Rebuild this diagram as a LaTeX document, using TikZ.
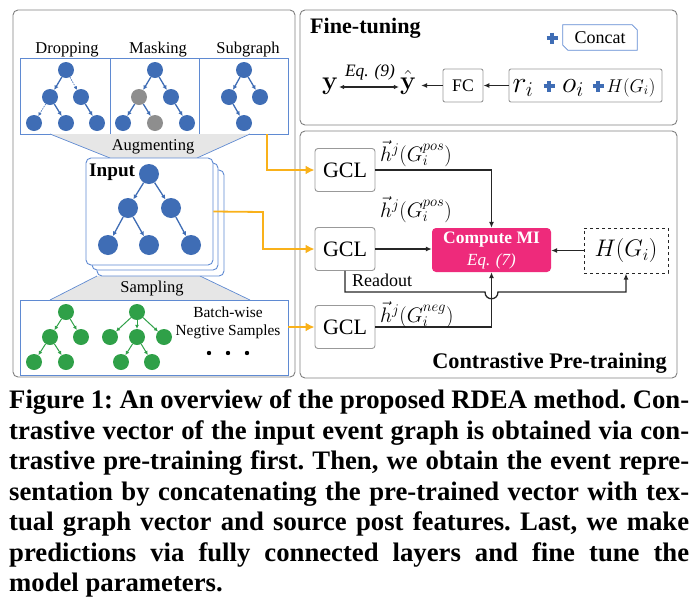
\documentclass[tikz,border=0pt]{standalone}
\usepackage{fix-cm}
\usepackage[no-math]{fontspec}
\setmainfont{Liberation Serif}
\usetikzlibrary{arrows.meta,calc}
\definecolor{nblue}{HTML}{3F6DB5}
\definecolor{ngreen}{HTML}{2FA048}
\definecolor{ngray}{HTML}{8E8E8E}
\definecolor{bblue}{HTML}{5F8AD2}
\definecolor{tgray}{HTML}{E6E6E6}
\definecolor{mipink}{HTML}{EE2A7B}
\definecolor{orng}{HTML}{F9B11A}
\definecolor{pgray}{HTML}{7F7F7F}
\definecolor{dline}{HTML}{262626}
\tikzset{
  panel/.style={draw=pgray, line width=0.9pt, rounded corners=5pt},
  bbox/.style={draw=bblue, line width=0.9pt},
  tnode/.style={circle, fill=nblue, minimum size=16pt, inner sep=0pt},
  gnode/.style={circle, fill=ngreen, minimum size=16pt, inner sep=0pt},
  mnode/.style={circle, fill=ngray, minimum size=16pt, inner sep=0pt},
  inode/.style={circle, fill=nblue, minimum size=20pt, inner sep=0pt},
  tedge/.style={nblue, line width=1.3pt, -{Latex[length=4.5pt,width=4.5pt]}},
  dedge/.style={nblue, line width=0.6pt, dash pattern=on 1.5pt off 1pt, -{Latex[length=3.5pt,width=3.5pt]}},
  gedge/.style={ngreen, line width=1pt, -{Latex[length=4pt,width=4pt]}},
  oline/.style={orng, line width=1.8pt, -{Latex[length=9pt,width=9pt]}},
  dark/.style={dline, line width=1.3pt, -{Latex[length=6pt,width=5pt]}},
  graybox/.style={draw=ngray!90, line width=0.9pt, rounded corners=3pt, fill=white},
  lbl/.style={inner sep=0pt, anchor=base},
  plusmark/.pic={\draw[nblue, line width=3.4pt] (-5.5,0)--(5.5,0) (0,-5.5)--(0,5.5);}
}
\begin{document}
\begin{tikzpicture}[x=1pt,y=-1pt]
\useasboundingbox (0,0) rectangle (697,603);
% panels
\draw[panel] (13,10) rectangle (295,377);
\draw[panel] (300,10) rectangle (677,125);
\draw[panel] (300,131) rectangle (677,378);

% augmentation boxes
\node[lbl, font=\fontsize{16.5}{18}\selectfont] (tdrop) at (67,53) {Dropping};
\node[lbl, font=\fontsize{16.5}{18}\selectfont] (tmask) at (158,53) {Masking};
\node[lbl, font=\fontsize{16.5}{18}\selectfont] (tsub) at (248,53) {Subgraph};
\draw[bbox] (20,58) rectangle (288,134);
\draw[bbox] (110,58) -- (110,134) (199,58) -- (199,134);

% dropping tree
\node[tnode] (d0) at (66,70) {};
\node[tnode] (d1) at (50,97) {};
\node[tnode] (d2) at (81,97) {};
\node[tnode] (d3) at (34,123) {};
\node[tnode] (d4) at (66,123) {};
\node[tnode] (d5) at (97,123) {};
\draw[tedge] (d0) -- (d1);
\draw[dedge] (d0) -- (d2);
\draw[dedge] (d1) -- (d3);
\draw[tedge] (d1) -- (d4);
\draw[tedge] (d2) -- (d5);
% masking tree
\node[tnode] (m0) at (155,70) {};
\node[mnode] (m1) at (139,97) {};
\node[tnode] (m2) at (171,97) {};
\node[tnode] (m3) at (123,123) {};
\node[mnode] (m4) at (155,123) {};
\node[tnode] (m5) at (187,123) {};
\draw[tedge] (m0) -- (m1);
\draw[tedge] (m0) -- (m2);
\draw[tedge] (m1) -- (m3);
\draw[tedge] (m1) -- (m4);
\draw[tedge] (m2) -- (m5);
% subgraph tree
\node[tnode] (s0) at (244,70) {};
\node[tnode] (s1) at (229,97) {};
\node[tnode] (s2) at (260,97) {};
\node[tnode] (s3) at (244,123) {};
\draw[tedge] (s0) -- (s1);
\draw[tedge] (s0) -- (s2);
\draw[tedge] (s1) -- (s3);

% trapezoids
\fill[tgray] (50,134) -- (250,134) -- (197,158) -- (110,158) -- cycle;
\draw[bblue, line width=0.7pt] (50,134) -- (110,158) (250,134) -- (197,158);
\node[lbl, font=\fontsize{16.5}{18}\selectfont] (taug) at (153,150) {Augmenting};
\fill[tgray] (97,276) -- (200,276) -- (250,300) -- (50,300) -- cycle;
\draw[bblue, line width=0.7pt] (97,276) -- (50,300) (200,276) -- (250,300);
\node[lbl, font=\fontsize{16.5}{18}\selectfont] (tsamp) at (152,292) {Sampling};

% input stack
\draw[bbox, fill=white, rounded corners=5pt] (97,170) rectangle (224,276);
\draw[bbox, fill=white, rounded corners=5pt] (92,163) rectangle (218,270);
\node[bbox, fill=white, rounded corners=5pt, minimum width=127pt, minimum height=107pt, inner sep=0pt] (inp) at (149.5,211.5) {};
\node[lbl, anchor=base west, font=\fontsize{19.2}{21}\selectfont\bfseries] (tinput) at (89,176) {Input};
\node[inode] (i0) at (149,174) {};
\node[inode] (i1) at (128,208) {};
\node[inode] (i2) at (171,208) {};
\node[inode] (i3) at (108,245) {};
\node[inode] (i4) at (149,245) {};
\node[inode] (i5) at (191,245) {};
\draw[tedge] (i0) -- (i1);
\draw[tedge] (i0) -- (i2);
\draw[tedge] (i1) -- (i3);
\draw[tedge] (i1) -- (i4);
\draw[tedge] (i2) -- (i5);

% negative samples
\node[bbox, minimum width=268pt, minimum height=75pt, inner sep=0pt] (neg) at (154,337.5) {};
\node[gnode] (g0) at (66,312) {};
\node[gnode] (g1) at (50,337) {};
\node[gnode] (g2) at (81,337) {};
\node[gnode] (g3) at (34,362) {};
\node[gnode] (g4) at (66,362) {};
\draw[gedge] (g0) -- (g1);
\draw[gedge] (g0) -- (g2);
\draw[gedge] (g1) -- (g3);
\draw[gedge] (g1) -- (g4);
\node[gnode] (h0) at (137,312) {};
\node[gnode] (h1) at (110,337) {};
\node[gnode] (h2) at (137,337) {};
\node[gnode] (h3) at (164,337) {};
\node[gnode] (h4) at (121,362) {};
\node[gnode] (h5) at (152,362) {};
\draw[gedge] (h0) -- (h1);
\draw[gedge] (h0) -- (h2);
\draw[gedge] (h0) -- (h3);
\draw[gedge] (h2) -- (h4);
\draw[gedge] (h2) -- (h5);
\node[lbl, font=\fontsize{15.4}{17}\selectfont] (tbw) at (228,317) {Batch-wise};
\node[lbl, font=\fontsize{15.4}{17}\selectfont] (tns) at (228,335) {Negtive Samples};
\fill[black] (209,353) circle (2.2) (228,353) circle (2.2) (247,353) circle (2.2);

% GCL nodes
\node[graybox, minimum width=60pt, minimum height=43pt, inner sep=0pt, font=\fontsize{22}{24}\selectfont] (gcl1) at (345,170) {GCL};
\node[graybox, minimum width=60pt, minimum height=43pt, inner sep=0pt, font=\fontsize{22}{24}\selectfont] (gcl2) at (345,249) {GCL};
\node[graybox, minimum width=60pt, minimum height=43pt, inner sep=0pt, font=\fontsize{22}{24}\selectfont] (gcl3) at (345,327) {GCL};

% orange connectors
\coordinate (o1s) at (267,134);
\draw[oline] (o1s) |- (gcl1.west);
\coordinate (o2s) at (inp.east);
\coordinate (o2m) at (263,212);
\draw[oline] (o2s) -- (o2m) |- (gcl2.west);
\draw[oline] (neg.east |- gcl3.west) -- (gcl3.west);

% compute MI and H
\node[fill=mipink, rounded corners=4pt, minimum width=119pt, minimum height=44pt, inner sep=0pt] (cmi) at (491.5,250) {};
\node[lbl, text=white, font=\fontsize{17.5}{19}\selectfont\bfseries] (tcmi) at (491.5,243) {Compute MI};
\node[lbl, text=white, font=\fontsize{17}{19}\selectfont\itshape] (teq7) at (491.5,265) {Eq. (7)};
\node[draw=dline, dashed, line width=1pt, minimum width=84pt, minimum height=45pt, inner sep=0pt, font=\fontsize{24}{26}\selectfont] (hbox) at (626,250.5) {$H(G_i)$};

\draw[dark] (gcl1.east) -| (cmi.north);
\draw[dark] (gcl2.east) -- (gcl2.east -| cmi.west);
\draw[dark] (hbox.west) -- (hbox.west -| cmi.east);
\draw[dark] (gcl3.east) -| (cmi.south);
\coordinate (rdy) at (0,292);
\coordinate (hopL) at ($(cmi.south |- rdy)+(-6.5,0)$);
\coordinate (hopR) at ($(cmi.south |- rdy)+(6.5,0)$);
\draw[dark] (gcl2.south) -- (gcl2.south |- rdy) -- (hopL) .. controls ($(hopL)+(0,9)$) and ($(hopR)+(0,9)$) .. (hopR) -- (hbox.south |- rdy) -- (hbox.south);
\node[lbl, anchor=base west, font=\fontsize{18}{20}\selectfont] (tread) at (352,286) {Readout};

\node[lbl, anchor=base west, font=\fontsize{21}{23}\selectfont] (lh1) at (380,161) {$\vec{h}^{j}(G_i^{pos})$};
\node[lbl, anchor=base west, font=\fontsize{21}{23}\selectfont] (lh2) at (380,217) {$\vec{h}^{j}(G_i^{pos})$};
\node[lbl, anchor=base west, font=\fontsize{21}{23}\selectfont] (lh3) at (380,322) {$\vec{h}^{j}(G_i^{neg})$};
\node[lbl, font=\fontsize{22.3}{24}\selectfont\bfseries] (tcpt) at (549.5,368) {Contrastive Pre-training};

% fine-tuning
\node[lbl, anchor=base west, font=\fontsize{22.1}{24}\selectfont\bfseries] (tft) at (310,33) {Fine-tuning};
\pic at (552,38) {plusmark};
\node[minimum width=74pt, minimum height=25pt, inner sep=0pt] (concat) at (600,37.5) {};
\draw[draw=bblue, line width=0.8pt] (concat.north west) -- ($(concat.north east)+(-5,0)$) -- ($(concat.north east)+(0,5)$) -- (concat.south east) -- ($(concat.south west)+(5,0)$) -- ($(concat.south west)+(0,-5)$) -- cycle;
\node[lbl, font=\fontsize{18}{20}\selectfont] (tconcat) at (600,43) {Concat};

\node[lbl, font=\fontsize{26}{28}\selectfont] (ynode) at (330,89) {$\mathbf{y}$};
\node[lbl, font=\fontsize{26}{28}\selectfont] (yhat) at (408,89) {$\hat{\mathbf{y}}$};
\coordinate (ary) at (0,87);
\draw[dline, line width=1.2pt, {Latex[length=5pt,width=4.5pt]}-{Latex[length=5pt,width=4.5pt]}] ($(ynode.east |- ary)+(1,0)$) -- ($(yhat.west |- ary)+(-1,0)$);
\node[lbl, font=\fontsize{17.4}{19}\selectfont\itshape] (teq9) at (370,76) {Eq. (9)};
\node[graybox, rounded corners=2pt, minimum width=40pt, minimum height=33pt, inner sep=0pt, font=\fontsize{17.7}{19}\selectfont] (fc) at (463,85.5) {FC};
\node[graybox, rounded corners=2pt, minimum width=153pt, minimum height=33pt, inner sep=0pt] (cbox) at (585.5,85.5) {};
\draw[dark] (fc.west) -- ($(yhat.east |- fc.west)+(5,0)$);
\draw[dark] (cbox.west) -- (fc.east);
\node[lbl, font=\fontsize{30}{32}\selectfont] (tri) at (523,92) {$r_i$};
\node[lbl, font=\fontsize{30}{32}\selectfont] (toi) at (573,92) {$o_i$};
\node[lbl, font=\fontsize{18.5}{20}\selectfont] (thg) at (631,92) {$H(G_i)$};
\pic at (549,86) {plusmark};
\pic at (598,86) {plusmark};

% caption
\node[anchor=north west, inner sep=0pt, align=left, font=\fontsize{26.7}{30.5}\selectfont\bfseries\frenchspacing] (cap) at (9,389.5) {%
\makebox[680pt][s]{Figure 1: An overview of the proposed RDEA method. Con-}\\
\makebox[680pt][s]{trastive vector of the input event graph is obtained via con-}\\
\makebox[680pt][s]{trastive pre-training first. Then, we obtain the event repre-}\\
\makebox[680pt][s]{sentation by concatenating the pre-trained vector with tex-}\\
\makebox[680pt][s]{tual graph vector and source post features. Last, we make}\\
\makebox[680pt][s]{predictions via fully connected layers and fine tune the}\\
\makebox[680pt][l]{model parameters.}};
\end{tikzpicture}
\end{document}
